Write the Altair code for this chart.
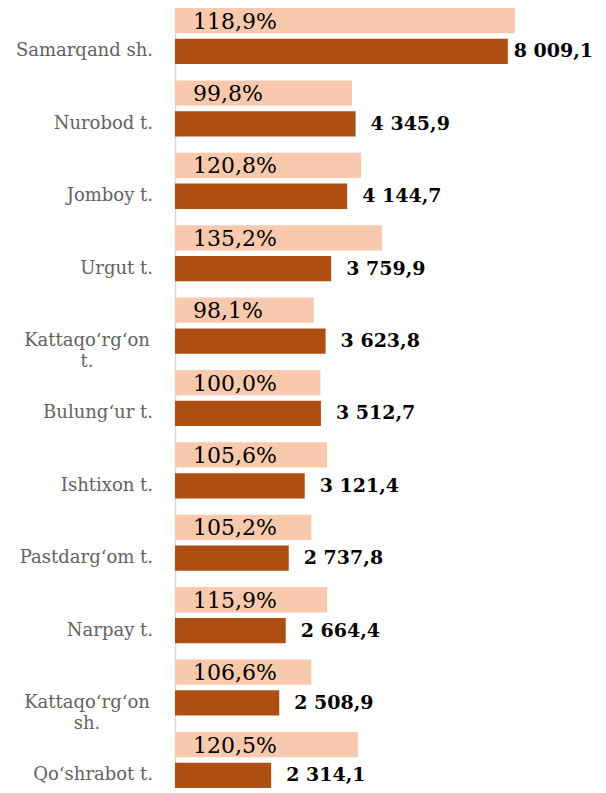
import altair as alt
import pandas as pd

categories = [
    "Samarqand sh.", "Nurobod t.", "Jomboy t.", "Urgut t.",
    "Kattaqo‘rg‘on\nt.", "Bulung‘ur t.", "Ishtixon t.", "Pastdarg‘om t.",
    "Narpay t.", "Kattaqo‘rg‘on\nsh.", "Qo‘shrabot t.",
]
values = [8009.1, 4345.9, 4144.7, 3759.9, 3623.8, 3512.7, 3121.4, 2737.8, 2664.4, 2508.9, 2314.1]
value_labels = ["8 009,1", "4 345,9", "4 144,7", "3 759,9", "3 623,8", "3 512,7",
                "3 121,4", "2 737,8", "2 664,4", "2 508,9", "2 314,1"]
percent_labels = ["118,9%", "99,8%", "120,8%", "135,2%", "98,1%", "100,0%",
                  "105,6%", "105,2%", "115,9%", "106,6%", "120,5%"]
# length of the light label boxes in the same units as the values
percent_box = [8180, 4260, 4480, 4980, 3340, 3500, 3660, 3280, 3660, 3280, 4400]

rows = []
for c, v, vl, p, pb in zip(categories, values, value_labels, percent_labels, percent_box):
    rows.append({"cat": c, "series": "light", "length": pb, "text": p, "multi": "\n" in c})
    rows.append({"cat": c, "series": "dark", "length": v, "text": vl, "multi": "\n" in c})
df = pd.DataFrame(rows)

FONT = "DejaVu Serif"
LIGHT = "#F8C9AC"
DARK = "#AD4E13"

Y = alt.Y("cat:N", sort=categories,
          scale=alt.Scale(paddingInner=0.225, paddingOuter=0),
          axis=alt.Axis(labels=False, ticks=False, title=None, grid=False,
                        domainColor="#D9D9D9", domainWidth=1.5))
YO = alt.YOffset("series:N", sort=["light", "dark"],
                 scale=alt.Scale(domain=["light", "dark"], paddingInner=0.18, paddingOuter=0))
XS = alt.Scale(domain=[0, 9000])

bars = alt.Chart(df).mark_bar().encode(
    y=Y, yOffset=YO,
    x=alt.X("length:Q", scale=XS, axis=None),
    color=alt.Color("series:N", scale=alt.Scale(domain=["light", "dark"], range=[LIGHT, DARK]), legend=None),
)

pct_text = alt.Chart(df).transform_filter(alt.datum.series == "light").mark_text(
    align="left", baseline="middle", font=FONT, fontSize=22, color="#000000", dy=1
).encode(y=Y, yOffset=YO, x=alt.value(18), text="text:N")

# value labels sit just right of the bar; the longest one is pulled in to stay on the page
val_text = alt.Chart(df).transform_filter(alt.datum.series == "dark").transform_calculate(
    label_pos="min(datum.length, 7790)"
).mark_text(
    align="left", baseline="middle", font=FONT, fontSize=19, fontWeight="bold", color="#000000", dx=15
).encode(y=Y, yOffset=YO, x=alt.X("label_pos:Q", scale=XS, axis=None), text="text:N")

cat_single = alt.Chart(df).transform_filter(
    (alt.datum.series == "dark") & (~alt.datum.multi)
).mark_text(
    align="right", baseline="middle", font=FONT, fontSize=18, color="#626262"
).encode(y=Y, yOffset=YO, x=alt.value(-22), text="cat:N")

cat_multi = alt.Chart(df).transform_filter(
    (alt.datum.series == "dark") & (alt.datum.multi)
).mark_text(
    align="center", baseline="middle", font=FONT, fontSize=18, color="#626262",
    lineBreak="\n", lineHeight=21
).encode(y=Y, yOffset=YO, x=alt.value(-88), text="cat:N")

chart = alt.layer(bars, pct_text, val_text, cat_single, cat_multi).properties(
    width=374, height=780,
    autosize=alt.AutoSizeParams(type="none"),
    padding={"left": 167, "top": 0, "right": 49, "bottom": 0},
    background="white",
).configure_view(stroke=None)

chart.save("out.html", embed_options={"renderer": "svg", "actions": False})
